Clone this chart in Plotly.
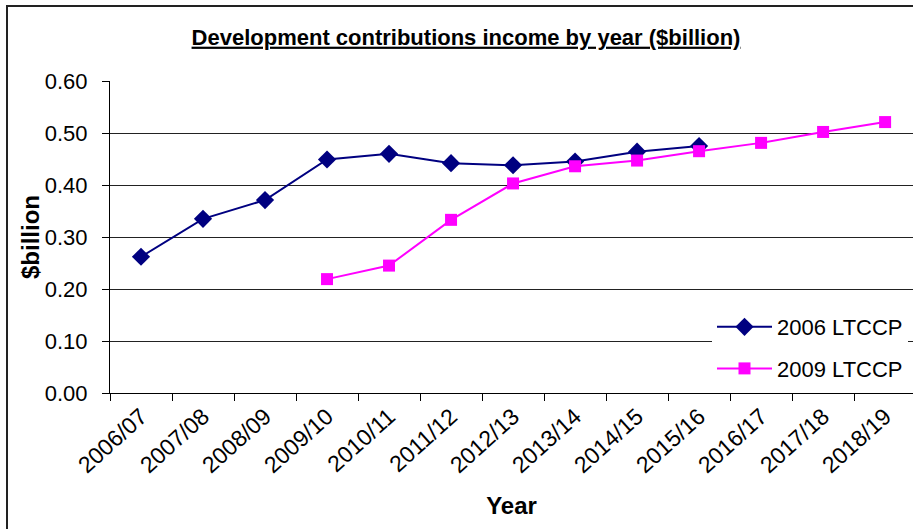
import plotly.graph_objects as go

# Financial years on the category axis
years = ["2006/07", "2007/08", "2008/09", "2009/10", "2010/11", "2011/12", "2012/13",
         "2013/14", "2014/15", "2015/16", "2016/17", "2017/18", "2018/19"]

# Development contributions income ($billion) by plan
ltccp_2006_years = ["2006/07", "2007/08", "2008/09", "2009/10", "2010/11", "2011/12",
                    "2012/13", "2013/14", "2014/15", "2015/16"]
ltccp_2006_values = [0.262, 0.335, 0.371, 0.449, 0.460, 0.442, 0.438, 0.445, 0.464, 0.475]

ltccp_2009_years = ["2009/10", "2010/11", "2011/12", "2012/13", "2013/14", "2014/15",
                    "2015/16", "2016/17", "2017/18", "2018/19"]
ltccp_2009_values = [0.219, 0.245, 0.333, 0.403, 0.436, 0.447, 0.465, 0.481, 0.502, 0.521]

y_ticks = [0.0, 0.1, 0.2, 0.3, 0.4, 0.5, 0.6]

W, H = 913, 529
L, R, T, B = 110, 0, 81, 136
PW, PH = W - L - R, H - T - B


def px_x(x):
    return (x - L) / PW


def px_y(y):
    return (H - B - y) / PH


FONT = "Liberation Sans, Arial, sans-serif"

fig = go.Figure()
fig.add_trace(go.Scatter(
    x=ltccp_2006_years, y=ltccp_2006_values, name="2006 LTCCP", legendgroup="a",
    mode="lines+markers",
    line=dict(color="#000080", width=2),
    marker=dict(symbol="diamond", size=14, color="#000080"),
))
fig.add_trace(go.Scatter(
    x=ltccp_2009_years, y=ltccp_2009_values, name="2009 LTCCP", legendgroup="b",
    mode="lines+markers",
    line=dict(color="#FF00FF", width=2),
    marker=dict(symbol="square", size=12, color="#FF00FF"),
))

fig.update_layout(
    width=W, height=H,
    margin=dict(l=L, r=R, t=T, b=B, pad=0),
    paper_bgcolor="white", plot_bgcolor="white",
    font=dict(family=FONT, size=22, color="black"),
    title=dict(
        text="<b><u>Development contributions income by year ($billion)</u></b>",
        font=dict(family=FONT, size=22, color="black"),
        x=466 / W, xref="container", xanchor="center",
        y=1 - 37 / H, yref="container", yanchor="middle",
    ),
    showlegend=True,
    legend=dict(
        x=px_x(712), y=px_y(306), xanchor="left", yanchor="top",
        bgcolor="white", borderwidth=0,
        font=dict(family=FONT, size=22, color="black"),
        traceorder="grouped", tracegroupgap=10, itemwidth=55,
    ),
    shapes=[dict(
        type="rect", xref="paper", yref="paper",
        x0=px_x(7), x1=px_x(W + 10), y0=px_y(H + 10), y1=px_y(6),
        line=dict(color="#222", width=2), fillcolor="rgba(0,0,0,0)", layer="above",
    )],
    annotations=[dict(
        text="<b>$billion</b>", textangle=-90, showarrow=False,
        xref="paper", yref="paper", x=px_x(30), y=px_y(237),
        xanchor="center", yanchor="middle",
        font=dict(family=FONT, size=24, color="black"),
    )],
)

fig.update_xaxes(
    type="category", categoryorder="array", categoryarray=years,
    range=[-0.5, 12.45],
    showline=True, linecolor="black", linewidth=1,
    ticks="outside", tickson="boundaries", ticklen=7, tickcolor="black",
    tickangle=-42, tickfont=dict(size=23), showgrid=False, zeroline=False,
    title=dict(text="<b>Year</b>", font=dict(family=FONT, size=24), standoff=20),
)
fig.update_yaxes(
    range=[0, 0.6], tickvals=y_ticks, tickformat=".2f",
    showline=True, linecolor="black", linewidth=1,
    ticks="outside", ticklen=7, tickcolor="black", ticklabelstandoff=10,
    tickfont=dict(size=22),
    showgrid=True, gridcolor="#222", gridwidth=1, zeroline=False,
)

fig.write_html("out.html")
